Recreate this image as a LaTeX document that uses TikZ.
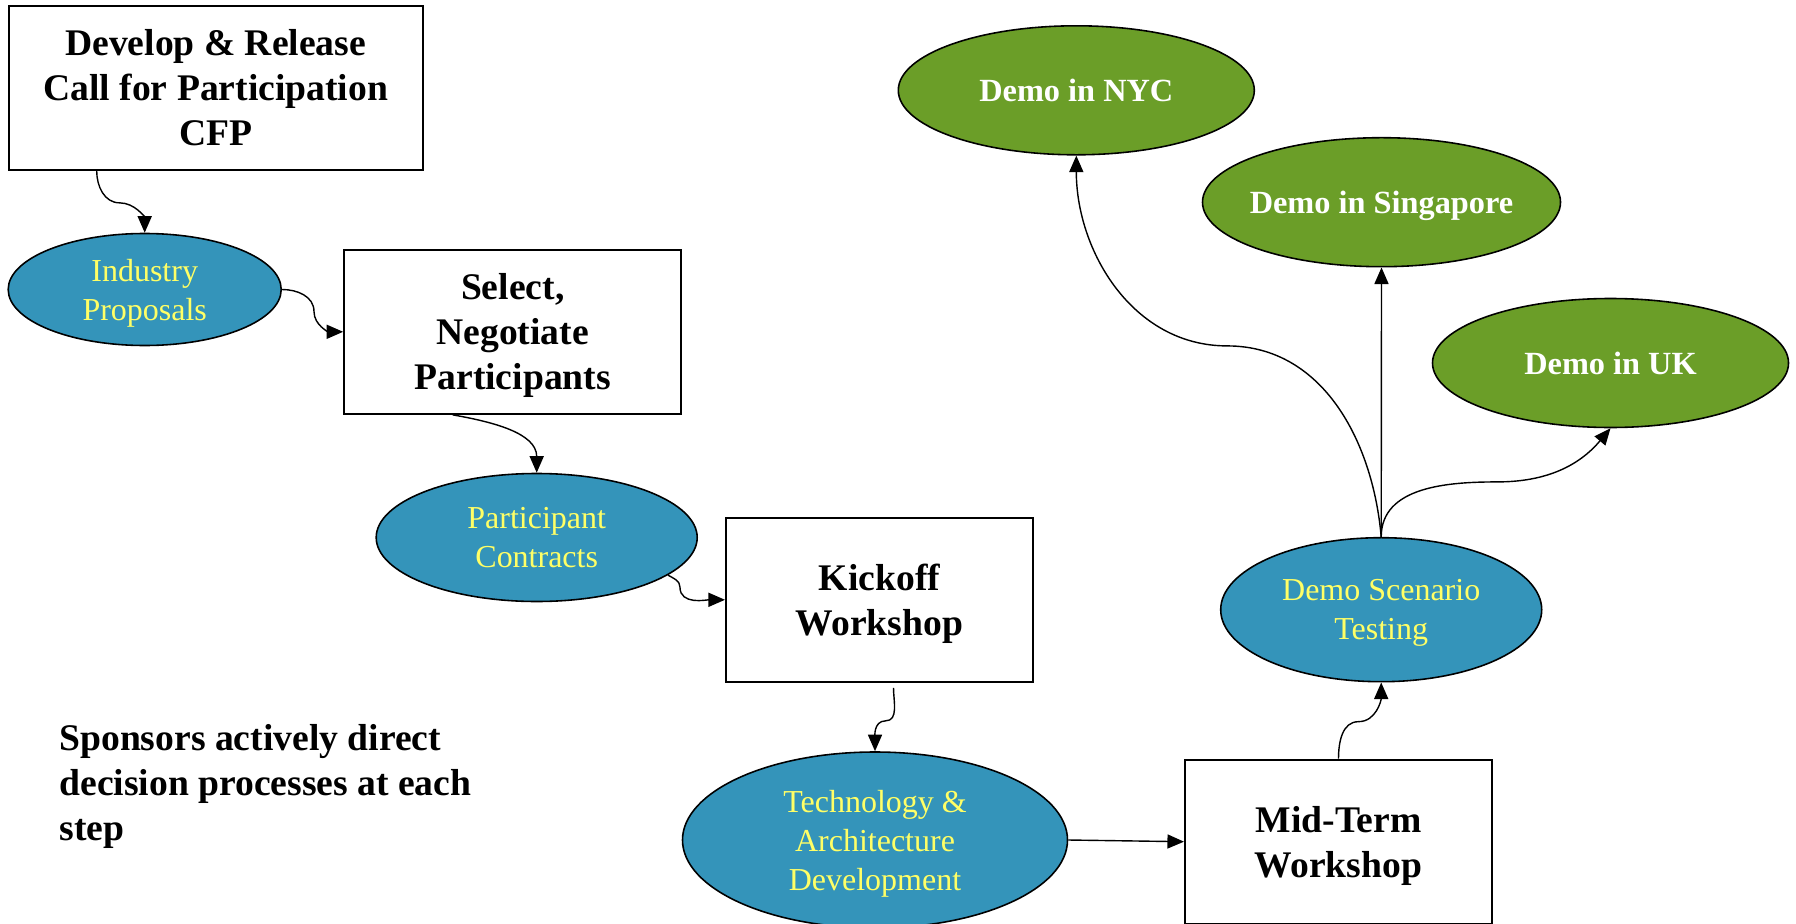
\documentclass[tikz,border=0pt]{standalone}
\usepackage{fontspec}
\setmainfont{Liberation Serif}
\usepackage{xcolor}
\usetikzlibrary{positioning,arrows.meta,shapes.geometric}
\definecolor{stepblue}{RGB}{52,148,186}
\definecolor{demogreen}{RGB}{107,158,40}
\definecolor{labelyellow}{RGB}{255,255,102}
\tikzset{
  stagebox/.style={draw, line width=0.6pt, fill=white, align=center, inner sep=2pt,
    text depth=0pt, font=\fontsize{10.7}{12.8}\selectfont\bfseries},
  workitem/.style={ellipse, draw, line width=0.45pt, fill=stepblue, text=labelyellow,
    align=center, inner sep=1pt, text depth=0pt, font=\fontsize{9.1}{11.1}\selectfont},
  demo/.style={ellipse, draw, line width=0.45pt, fill=demogreen, text=white,
    align=center, inner ysep=1pt, inner xsep=-4pt, text depth=0pt,
    font=\fontsize{9.2}{11}\selectfont\bfseries},
  flow/.style={line width=0.4pt, -{Triangle[length=4.7pt,width=4pt]}}
}

\begin{document}
\begin{tikzpicture}
\useasboundingbox (0,0) rectangle (17.96,-9.24);

% process steps
\node[stagebox, minimum width=4.14cm, minimum height=1.64cm] (cfp) at (2.157,-0.878) {Develop \& Release\\Call for Participation\\CFP};
\node[workitem, minimum width=2.73cm, minimum height=1.12cm] (ip) at (1.447,-2.895) {Industry\\Proposals};
\node[stagebox, minimum width=3.37cm, minimum height=1.64cm] (sel) at (5.127,-3.318) {Select,\\Negotiate\\Participants};
\node[workitem, minimum width=3.21cm, minimum height=1.28cm] (pc) at (5.367,-5.375) {Participant\\Contracts};
\node[stagebox, minimum width=3.07cm, minimum height=1.64cm] (kick) at (8.795,-5.998) {Kickoff\\Workshop};
\node[workitem, minimum width=3.85cm, minimum height=1.76cm] (tech) at (8.75,-8.40) {Technology \&\\Architecture\\Development};
\node[stagebox, minimum width=3.07cm, minimum height=1.64cm] (mid) at (13.385,-8.417) {Mid-Term\\Workshop};
\node[workitem, minimum width=3.21cm, minimum height=1.44cm] (dst) at (13.812,-6.097) {Demo Scenario\\Testing};

% demos
\node[demo, minimum width=3.56cm, minimum height=1.29cm] (nyc) at (10.763,-0.903) {Demo in NYC};
\node[demo, minimum width=3.58cm, minimum height=1.29cm] (sg) at (13.815,-2.022) {Demo in Singapore};
\node[demo, minimum width=3.56cm, minimum height=1.29cm] (uk) at (16.105,-3.63) {Demo in UK};

\node[anchor=west, align=left, text depth=0pt, font=\fontsize{10.7}{12.8}\selectfont\bfseries] (note) at (0.47,-7.825) {Sponsors actively direct\\decision processes at each\\step};

% connectors
\draw[flow] ([xshift=-1.19cm]cfp.south) to[out=-90,in=180] ++(0.23,-0.32) to[out=0,in=90] (ip.north);
\draw[flow] (ip.east) to[out=0,in=90] ++(0.32,-0.22) to[out=-90,in=180] (sel.west);
\draw[flow] ([xshift=-0.6cm]sel.south) to[out=-10,in=90] (pc.north);
\draw[flow] (pc.-16) to[out=-30,in=90] ++(0.12,-0.12) to[out=-90,in=180] (kick.west);
\draw[flow] ([xshift=0.14cm,yshift=-0.05cm]kick.south) to[out=-90,in=0] ++(-0.08,-0.33) to[out=180,in=90] (tech.north);
\draw[flow] (tech.east) -- (mid.west);
\draw[flow] (mid.north) to[out=90,in=180] ++(0.2,0.37) to[out=0,in=-90] (dst.south);
\draw[flow] (dst.north) to[out=95,in=0] ++(-1.54,1.91) to[out=180,in=-90] (nyc.south);
\draw[flow] (dst.north) -- (sg.south);
\draw[flow] (dst.north) to[out=90,in=180] ++(1.16,0.55) to[out=0,in=-130] (uk.south);
\end{tikzpicture}
\end{document}
